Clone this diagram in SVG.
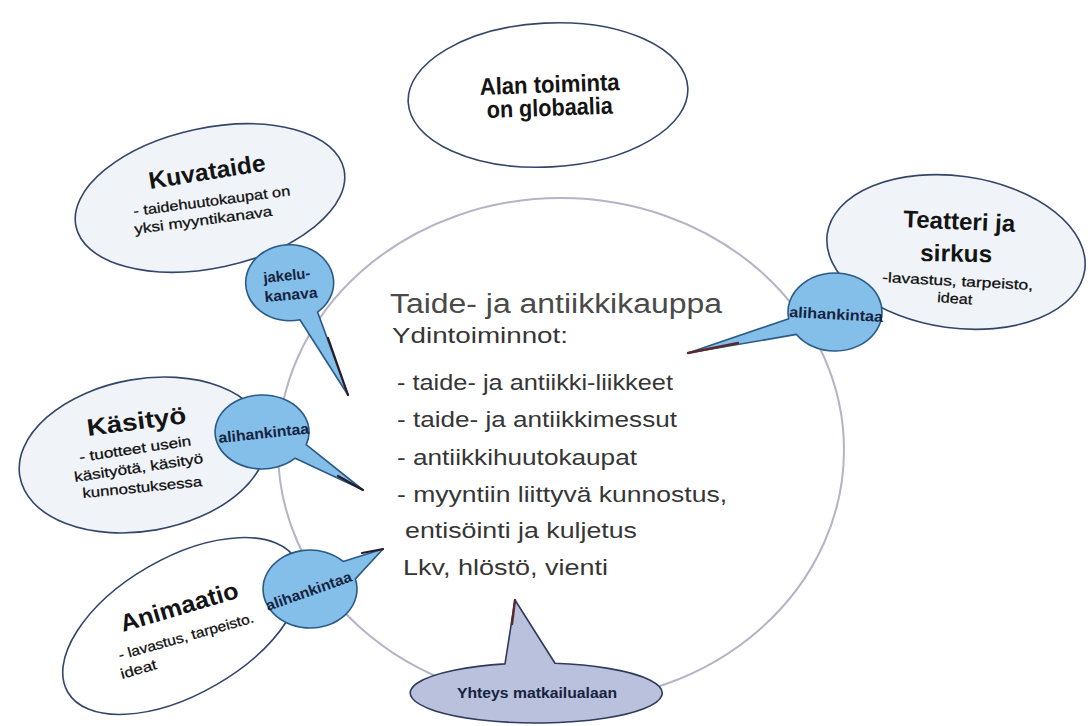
<svg xmlns="http://www.w3.org/2000/svg" width="1088" height="726" viewBox="0 0 1088 726">
  <defs>
    <style>
      .ring { fill: none; stroke: #b6b2c8; stroke-width: 2; }
      .ell { fill: #f0f4f9; stroke: #33466a; stroke-width: 1.6; }
      .ell-w { fill: #ffffff; stroke: #33466a; stroke-width: 1.6; }
      .bub { fill: #84bfea; stroke: #2a5a88; stroke-width: 1.6; stroke-linejoin: round; }
      .bub-g { fill: #b9c1dc; stroke: #2e3a5e; stroke-width: 1.6; stroke-linejoin: round; }
      .shade { fill: none; stroke: #2a1c22; stroke-width: 2.2; stroke-linecap: round; }
      .shade-r { fill: none; stroke: #5a2a2c; stroke-width: 2.4; stroke-linecap: round; }
      text { font-family: "Liberation Sans", Arial, sans-serif; }
      .h { font-weight: bold; fill: #141414; font-size: 24px; }
      .s { fill: #0e0e0e; font-size: 14px; stroke: #0e0e0e; stroke-width: 0.25; }
      .b { font-weight: bold; fill: #16233f; font-size: 15px; }
      .core-title { fill: #4a4a4a; font-size: 27px; }
      .core { fill: #363636; font-size: 22px; }
    </style>
  </defs>

  <!-- central field -->
  <g id="core">
    <ellipse class="ring" cx="561" cy="450" rx="283" ry="252"/>
    <text class="core-title" x="390" y="313" textLength="332" lengthAdjust="spacingAndGlyphs">Taide- ja antiikkikauppa</text>
    <text class="core" x="392" y="343" textLength="176" lengthAdjust="spacingAndGlyphs">Ydintoiminnot:</text>
    <text class="core" x="397" y="390" textLength="276" lengthAdjust="spacingAndGlyphs">- taide- ja antiikki-liikkeet</text>
    <text class="core" x="397" y="427" textLength="280" lengthAdjust="spacingAndGlyphs">- taide- ja antiikkimessut</text>
    <text class="core" x="397" y="465" textLength="240" lengthAdjust="spacingAndGlyphs">- antiikkihuutokaupat</text>
    <text class="core" x="397" y="502" textLength="330" lengthAdjust="spacingAndGlyphs">- myyntiin liittyvä kunnostus,</text>
    <text class="core" x="405" y="538" textLength="232" lengthAdjust="spacingAndGlyphs">entisöinti ja kuljetus</text>
    <text class="core" x="403" y="575" textLength="205" lengthAdjust="spacingAndGlyphs">Lkv, hlöstö, vienti</text>
  </g>

  <!-- outer topic ellipses -->
  <g id="alan">
    <ellipse class="ell-w" cx="548" cy="95" rx="140" ry="72" transform="rotate(-3 548 95)"/>
    <text class="h" font-size="22" x="480" y="95" transform="rotate(-2 480 95)" textLength="140" lengthAdjust="spacingAndGlyphs">Alan toiminta</text>
    <text class="h" font-size="22" x="487" y="118" transform="rotate(-2 487 118)" textLength="126" lengthAdjust="spacingAndGlyphs">on globaalia</text>
  </g>

  <g id="kuvataide">
    <ellipse class="ell" cx="210" cy="198" rx="137" ry="70" transform="rotate(-12 210 198)"/>
    <text class="h" x="150" y="189" transform="rotate(-9 150 189)" textLength="118" lengthAdjust="spacingAndGlyphs">Kuvataide</text>
    <text class="s" x="134" y="216" transform="rotate(-7.5 134 216)" textLength="158" lengthAdjust="spacingAndGlyphs">- taidehuutokaupat on</text>
    <text class="s" x="135" y="234" transform="rotate(-7.5 135 234)" textLength="139" lengthAdjust="spacingAndGlyphs">yksi myyntikanava</text>
  </g>

  <g id="kasityo">
    <ellipse class="ell" cx="143" cy="455" rx="125" ry="76" transform="rotate(-10 143 455)"/>
    <text class="h" x="88" y="436" transform="rotate(-7.5 88 436)" textLength="100" lengthAdjust="spacingAndGlyphs">Käsityö</text>
    <text class="s" x="80" y="462" transform="rotate(-8.5 80 462)" textLength="113" lengthAdjust="spacingAndGlyphs">- tuotteet usein</text>
    <text class="s" x="75" y="482" transform="rotate(-8.5 75 482)" textLength="130" lengthAdjust="spacingAndGlyphs">käsityötä, käsityö</text>
    <text class="s" x="83" y="498" transform="rotate(-5.7 83 498)" textLength="120" lengthAdjust="spacingAndGlyphs">kunnostuksessa</text>
  </g>

  <g id="animaatio">
    <ellipse class="ell-w" cx="182" cy="626" rx="132" ry="68" transform="rotate(-30 182 626)"/>
    <text class="h" x="123" y="632" transform="rotate(-16.5 123 632)" textLength="122" lengthAdjust="spacingAndGlyphs">Animaatio</text>
    <text class="s" x="120" y="660" transform="rotate(-15.7 120 660)" textLength="140" lengthAdjust="spacingAndGlyphs">- lavastus, tarpeisto.</text>
    <text class="s" x="122" y="679" transform="rotate(-16 122 679)" textLength="37" lengthAdjust="spacingAndGlyphs">ideat</text>
  </g>

  <g id="teatteri">
    <ellipse class="ell" cx="956" cy="252" rx="130" ry="76" transform="rotate(8 956 252)"/>
    <text class="h" font-size="26" x="903" y="227" transform="rotate(2.5 903 227)" textLength="112" lengthAdjust="spacingAndGlyphs">Teatteri ja</text>
    <text class="h" font-size="26" x="920" y="261" transform="rotate(1 920 261)" textLength="72" lengthAdjust="spacingAndGlyphs">sirkus</text>
    <text class="s" x="882" y="282" transform="rotate(3 882 282)" textLength="151" lengthAdjust="spacingAndGlyphs">-lavastus, tarpeisto,</text>
    <text class="s" x="937" y="302" transform="rotate(4 937 302)" textLength="35" lengthAdjust="spacingAndGlyphs">ideat</text>
  </g>

  <!-- speech-bubble labels with pointers into the centre -->
  <g id="jakelukanava">
    <path class="bub" d="M317.6 312.1 L348 395 L299.9 319.7 A44 38 0 1 1 317.6 312.1 Z"/>
    <text class="b" x="264" y="283" transform="rotate(-6 264 283)" textLength="47" lengthAdjust="spacingAndGlyphs">jakelu-</text>
    <text class="b" x="265" y="302" transform="rotate(-5 265 302)" textLength="53" lengthAdjust="spacingAndGlyphs">kanava</text>
  </g>

  <g id="alihankinta-kasityo">
    <path class="bub" d="M306.2 444.7 L363 490 L295.2 458.2 A47 37 0 1 1 306.2 444.7 Z"/>
    <text class="b" font-size="14" x="219" y="443" transform="rotate(-6 219 443)" textLength="91" lengthAdjust="spacingAndGlyphs">alihankintaa</text>
  </g>

  <g id="alihankinta-animaatio">
    <path class="bub" d="M343.2 561.4 L383 549 L355.4 578.9 A47 39 0 1 1 343.2 561.4 Z"/>
    <text class="b" font-size="14" x="268" y="611" transform="rotate(-19.5 268 611)" textLength="90" lengthAdjust="spacingAndGlyphs">alihankintaa</text>
  </g>

  <g id="alihankinta-teatteri">
    <path class="bub" d="M796.5 334.4 L688 353 L788.7 318.8 A47 39 0 1 1 796.5 334.4 Z"/>
    <text class="b" font-size="14" x="789" y="317" transform="rotate(3 789 317)" textLength="94" lengthAdjust="spacingAndGlyphs">alihankintaa</text>
  </g>

  <g id="yhteys">
    <path class="bub-g" d="M505 663.9 L515 600 L555 663.3 A126 30 0 1 1 505 663.9 Z"/>
    <text class="b" font-size="14" x="457" y="698" textLength="160" lengthAdjust="spacingAndGlyphs">Yhteys matkailualaan</text>
  </g>

  <!-- shaded edges of the pointers -->
  <g id="connectors">
    <path class="shade" d="M328 338 L348 395"/>
    <path class="shade" d="M338 476 L363 490"/>
    <path class="shade-r" d="M738 343 L688 353"/>
    <path class="shade" d="M362 553 L383 549"/>
    <path class="shade-r" d="M515 600 L512 624"/>
  </g>
</svg>
